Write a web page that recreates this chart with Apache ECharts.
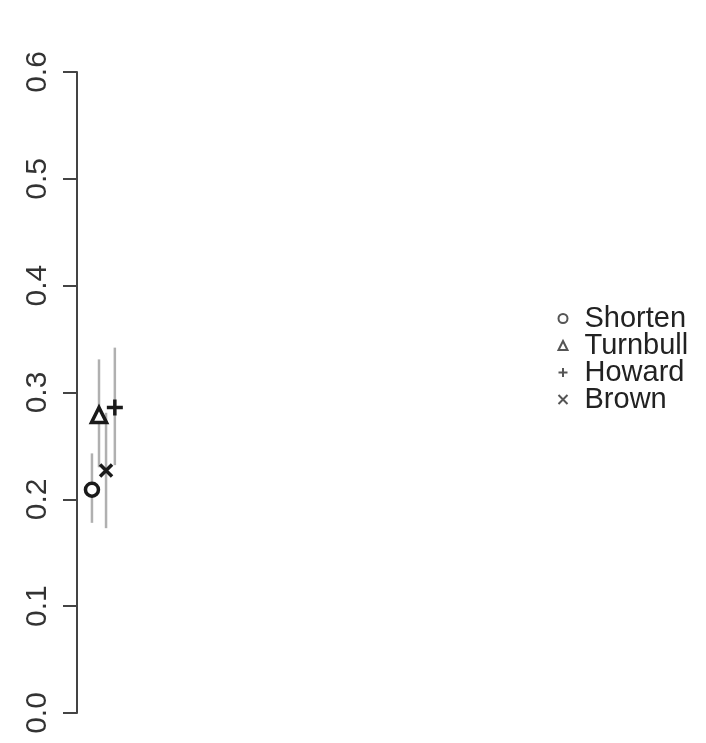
<!DOCTYPE html>
<html>
<head>
<meta charset="utf-8">
<script src="https://cdn.jsdelivr.net/npm/echarts@6/dist/echarts.min.js"></script>
<style>html,body{margin:0;padding:0;background:#fff}#c{width:706px;height:743px}</style>
</head>
<body>
<div id="c"></div>
<script>
var names = ['Shorten', 'Turnbull', 'Howard', 'Brown'];
var xPos = [3.4, 5.0, 8.6, 6.6];
var estimate = [0.209, 0.279, 0.286, 0.227];
var lower = [0.178, 0.230, 0.232, 0.173];
var upper = [0.243, 0.331, 0.342, 0.281];
var yTicks = [0, 0.1, 0.2, 0.3, 0.4, 0.5, 0.6];

var plusPath = 'path://M0,5L10,5M5,0L5,10';
var crossPath = 'path://M0,0L10,10M10,0L0,10';
var symbols = ['circle', 'triangle', plusPath, crossPath];
var sizes = [13, 15, 16, 12];

var chart = echarts.init(document.getElementById('c'));
var series = [];
series.push({
  type: 'custom',
  silent: true,
  z: 1,
  data: names.map(function (n, i) { return [xPos[i], lower[i], upper[i]]; }),
  renderItem: function (params, api) {
    var p1 = api.coord([api.value(0), api.value(1)]);
    var p2 = api.coord([api.value(0), api.value(2)]);
    return {
      type: 'line',
      shape: { x1: p1[0], y1: p1[1], x2: p2[0], y2: p2[1] },
      style: { stroke: '#b0b0b0', lineWidth: 2.5 }
    };
  }
});
names.forEach(function (n, i) {
  series.push({
    name: n,
    type: 'scatter',
    z: 3,
    symbol: symbols[i],
    symbolSize: sizes[i],
    itemStyle: { color: i < 2 ? '#ffffff' : 'none', borderColor: '#1a1a1a', borderWidth: 3.5, opacity: 1 },
    data: [[xPos[i], estimate[i]]]
  });
});

chart.setOption({
  animation: false,
  backgroundColor: '#ffffff',
  grid: { left: 77, right: 189, top: 72, bottom: 30 },
  xAxis: { type: 'value', min: 0, max: 100, show: false },
  yAxis: {
    type: 'value', min: 0, max: 0.6, interval: 0.1,
    axisLine: { show: true, lineStyle: { color: '#444', width: 2 } },
    axisTick: { show: true, length: 14, lineStyle: { color: '#444', width: 2 } },
    splitLine: { show: false },
    axisLabel: {
      rotate: 90, margin: 24, fontSize: 30, color: '#333', fontFamily: 'Liberation Sans',
      formatter: function (v) { return v.toFixed(1); }
    }
  },
  legend: {
    orient: 'vertical', left: 551, top: 299, itemGap: -2,
    itemWidth: 9, itemHeight: 9,
    textStyle: { fontSize: 29, lineHeight: 27, color: '#222', fontFamily: 'Liberation Sans', padding: [0, 0, 0, 12] },
    data: names.map(function (n, i) {
      return { name: n, icon: symbols[i], itemStyle: { color: i < 2 ? '#fff' : 'none', borderColor: '#555', borderWidth: 2 } };
    })
  },
  series: series
});
</script>
</body>
</html>
